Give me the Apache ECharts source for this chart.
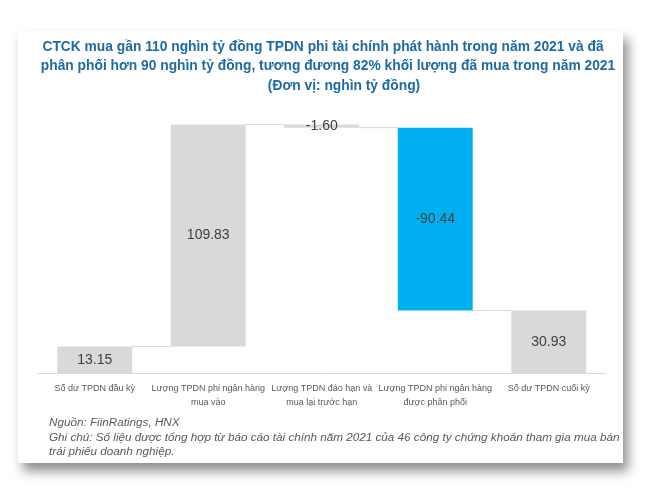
<!DOCTYPE html>
<html>
<head>
<meta charset="utf-8">
<script src="https://cdn.jsdelivr.net/npm/echarts@6/dist/echarts.min.js"></script>
<style>
  html, body { margin: 0; padding: 0; background: #fff; }
  #card {
    position: absolute; left: 18px; top: 31px; width: 605px; height: 432px;
    background: #fff; box-shadow: 5px 8px 11px rgba(0,0,0,0.45);
  }
  #main { width: 605px; height: 432px; }
</style>
</head>
<body>
<div id="card"><div id="main"></div></div>
<script>
var categories = [
  'Số dư TPDN đầu kỳ',
  'Lượng TPDN phi ngân hàng\nmua vào',
  'Lượng TPDN đáo hạn và\nmua lại trước hạn',
  'Lượng TPDN phi ngân hàng\nđược phân phối',
  'Số dư TPDN cuối kỳ'
];
var values = [13.15, 109.83, -1.60, -90.44, 30.93];
var isTotal = [true, false, false, false, true];
var titleLines = [
  'CTCK mua gần 110 nghìn tỷ đồng TPDN phi tài chính phát hành trong năm 2021 và đã',
  'phân phối hơn 90 nghìn tỷ đồng, tương đương 82% khối lượng đã mua trong năm 2021',
  '(Đơn vị: nghìn tỷ đồng)'
];
var noteLines = [
  'Nguồn: FiinRatings, HNX',
  'Ghi chú: Số liệu được tổng hợp từ báo cáo tài chính năm 2021 của 46 công ty chứng khoán tham gia mua bán',
  'trái phiếu doanh nghiệp.'
];

// waterfall: invisible base + visible part
var base = [], shown = [], levels = [];
var run = 0;
values.forEach(function (v, i) {
  if (isTotal[i]) {
    base.push(0);
    shown.push(Math.abs(v));
    run = v;
  } else {
    var next = run + v;
    base.push(Math.min(run, next));
    shown.push(Math.abs(v));
    run = next;
  }
  levels.push(run);
});
var connectors = [];
for (var i = 0; i < values.length - 1; i++) connectors.push([i, levels[i]]);

var barColors = ['#D9D9D9', '#D9D9D9', '#D9D9D9', '#00B0F0', '#D9D9D9'];
var barRatio = 0.66;
var titleX = [305, 310, 326];

var myChart = echarts.init(document.getElementById('main'));
var option = {
  animation: false,
  graphic: titleLines.map(function (t, i) {
    return {
      type: 'text', x: titleX[i], y: 16 + i * 19.5,
      style: { text: t, textAlign: 'center', textVerticalAlign: 'middle',
        font: 'bold 13.8px "Liberation Sans", Arial, sans-serif', fill: '#1D6AA5' }
    };
  }).concat(noteLines.map(function (t, i) {
    return {
      type: 'text', x: 31, y: 392 + i * 14.5,
      style: { text: t, textAlign: 'left', textVerticalAlign: 'middle',
        font: 'italic 11.7px "Liberation Sans", Arial, sans-serif', fill: '#595959' }
    };
  })),
  grid: { left: 20, right: 17.5, top: 59, bottom: 90 },
  xAxis: {
    type: 'category',
    data: categories,
    axisLine: { lineStyle: { color: '#D9D9D9', width: 1 } },
    axisTick: { show: false },
    axisLabel: {
      interval: 0, margin: 8, fontSize: 9, lineHeight: 14.5, color: '#595959',
      fontFamily: '"Liberation Sans", Arial, sans-serif'
    }
  },
  yAxis: { type: 'value', min: 0, max: 140, show: false, splitLine: { show: false } },
  series: [
    {
      type: 'bar', stack: 'w', barWidth: (barRatio * 100) + '%',
      itemStyle: { color: 'transparent' },
      data: base, silent: true
    },
    {
      type: 'bar', stack: 'w', barWidth: (barRatio * 100) + '%',
      data: shown.map(function (v, i) {
        return { value: v, itemStyle: { color: barColors[i] } };
      }),
      label: {
        show: true, position: 'inside', color: '#404040', fontSize: 14,
        fontFamily: '"Liberation Sans", Arial, sans-serif',
        formatter: function (p) { return values[p.dataIndex].toFixed(2); }
      }
    },
    {
      type: 'custom',
      data: connectors,
      z: 1,
      renderItem: function (params, api) {
        var idx = api.value(0), lvl = api.value(1);
        var half = api.size([1, 0])[0] * barRatio / 2;
        var p1 = api.coord([idx, lvl]);
        var p2 = api.coord([idx + 1, lvl]);
        return {
          type: 'line',
          shape: { x1: p1[0] + half, y1: p1[1], x2: p2[0] - half, y2: p2[1] },
          style: { stroke: '#D9D9D9', lineWidth: 1 }
        };
      }
    }
  ]
};
myChart.setOption(option);
</script>
</body>
</html>
